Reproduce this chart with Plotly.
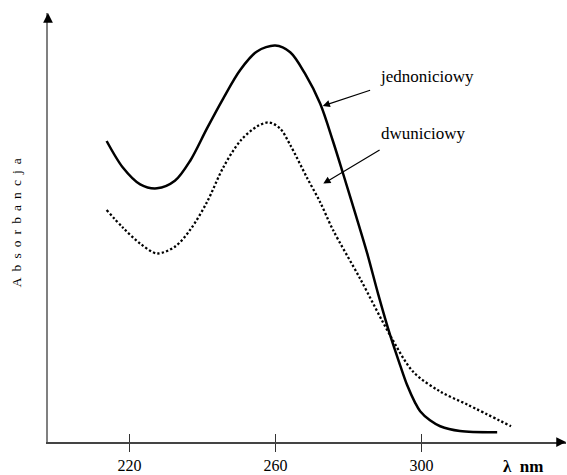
import plotly.graph_objects as go

# Wavelength (nm) and absorbance (arbitrary units)
wl_single = [213.7, 218.2, 222.9, 227.5, 232.4, 236.6, 241.2, 245.6, 250.3, 254.9,
             259.9, 264.0, 268.1, 272.2, 275.7, 278.5, 281.8, 285.1, 288.1, 291.4,
             294.1, 296.0, 298.2, 299.6, 302.3, 305.1, 310.5, 320.7]
abs_single = [0.763, 0.695, 0.653, 0.643, 0.662, 0.713, 0.795, 0.870, 0.943, 0.990,
              1.005, 0.988, 0.933, 0.858, 0.763, 0.680, 0.580, 0.478, 0.375, 0.270,
              0.195, 0.145, 0.100, 0.078, 0.055, 0.040, 0.028, 0.025]

wl_double = [213.7, 218.2, 222.9, 227.5, 232.4, 236.6, 241.2, 245.6, 250.3, 254.9,
             258.2, 261.2, 264.0, 268.6, 272.2, 275.7, 283.1, 291.4, 297.7, 305.1,
             312.5, 324.5]
abs_double = [0.588, 0.543, 0.503, 0.478, 0.495, 0.538, 0.608, 0.695, 0.763, 0.800,
              0.810, 0.795, 0.753, 0.670, 0.608, 0.538, 0.415, 0.270, 0.178, 0.128,
              0.095, 0.040]

tick_vals = [220, 260, 300]
tick_text = ["220", "260", "300"]
x_range = [197.64, 339.56]
y_range = [0, 1.0875]

label_single = "jednoniciowy"
label_double = "dwuniciowy"
x_title = "λ  nm"
y_title = "\u2009 ".join("Absorbancja")

SERIF = "Liberation Serif"

fig = go.Figure()
fig.add_trace(go.Scatter(x=wl_single, y=abs_single, mode="lines",
                         line=dict(color="black", width=2.5, shape="spline", smoothing=0.9),
                         hoverinfo="skip", showlegend=False))
fig.add_trace(go.Scatter(x=wl_double, y=abs_double, mode="lines",
                         line=dict(color="black", width=2.3, dash="2.3px,2.2px", shape="spline", smoothing=0.9),
                         hoverinfo="skip", showlegend=False))
# invisible trace to activate the overlay axis (inside ticks)
fig.add_trace(go.Scatter(x=[x_range[0]], y=[0], xaxis="x2", mode="markers",
                         marker=dict(opacity=0), hoverinfo="skip", showlegend=False))

fig.update_layout(
    width=567, height=475,
    margin=dict(l=48, r=1, t=13, b=27),
    paper_bgcolor="white", plot_bgcolor="white",
    font=dict(family=SERIF, color="black"),
    xaxis=dict(range=x_range, tickvals=tick_vals, ticktext=tick_text,
               ticks="outside", ticklen=8, tickwidth=1, tickcolor="#333",
               showline=True, linecolor="#444", linewidth=1.5,
               showgrid=False, zeroline=False,
               tickfont=dict(family=SERIF, size=16, color="black")),
    xaxis2=dict(range=x_range, tickvals=tick_vals, ticktext=["", "", ""],
                overlaying="x", side="bottom", anchor="y",
                ticks="inside", ticklen=8, tickwidth=1, tickcolor="#333",
                showline=False, showgrid=False, zeroline=False, showticklabels=False),
    yaxis=dict(range=y_range, showticklabels=False, ticks="",
               showline=True, linecolor="#808080", linewidth=2,
               showgrid=False, zeroline=False),
)

ann = []
# axis arrowheads
ann.append(dict(x=0, y=1, xref="paper", yref="paper", text="", showarrow=True,
                ax=0, ay=10, arrowhead=2, arrowsize=1.3, arrowwidth=1.5, arrowcolor="black"))
ann.append(dict(x=1, y=0, xref="paper", yref="paper", text="", showarrow=True,
                ax=-10, ay=0, arrowhead=2, arrowsize=1.3, arrowwidth=1.5, arrowcolor="black"))
# axis titles
ann.append(dict(x=0, y=0.51, xref="paper", yref="paper", xanchor="center", yanchor="middle",
                xshift=-32, text=y_title,
                showarrow=False, textangle=-90, font=dict(family=SERIF, size=13.5, color="black")))
ann.append(dict(x=0.917, y=0, xref="paper", yref="paper", xanchor="center", yanchor="middle",
                yshift=-24, text="<b>" + x_title + "</b>",
                showarrow=False, font=dict(family=SERIF, size=17, color="black")))
# curve labels
ann.append(dict(x=288.1, y=0.9275, xref="x", yref="y", xanchor="left", yanchor="middle",
                text=label_single,
                showarrow=False, font=dict(family=SERIF, size=17, color="black")))
ann.append(dict(x=288.4, y=0.7825, xref="x", yref="y", xanchor="left", yanchor="middle",
                text=label_double,
                showarrow=False, font=dict(family=SERIF, size=17, color="black")))
# pointer arrows
ann.append(dict(x=272.9, y=0.852, xref="x", yref="y", axref="x", ayref="y", ax=286.3, ay=0.893,
                text="", showarrow=True, arrowhead=2, arrowsize=1.2, arrowwidth=1.2, arrowcolor="black"))
ann.append(dict(x=273.07, y=0.655, xref="x", yref="y", axref="x", ayref="y", ax=288.9, ay=0.7425,
                text="", showarrow=True, arrowhead=2, arrowsize=1.2, arrowwidth=1.2, arrowcolor="black"))
fig.update_layout(annotations=ann)

fig.write_html("out.html")
